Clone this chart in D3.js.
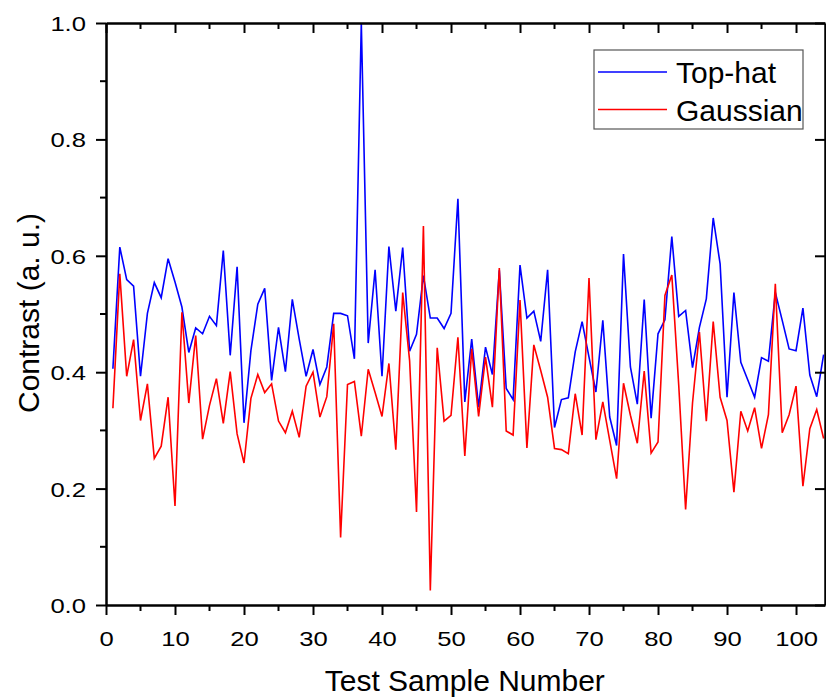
<!DOCTYPE html>
<html>
<head>
<meta charset="utf-8">
<script src="https://cdn.jsdelivr.net/npm/d3@7"></script>
<style>
  body { margin: 0; background: #fff; }
  text { font-family: "Liberation Sans", Arial, sans-serif; }
</style>
</head>
<body>
<div id="chart"></div>
<script>
// sample numbers 1..104
var samples = d3.range(1, 105);

var topHat = [
  0.406, 0.615, 0.559, 0.548, 0.393, 0.501, 0.554, 0.528, 0.595, 0.555,
  0.512, 0.434, 0.476, 0.466, 0.496, 0.480, 0.609, 0.429, 0.581, 0.313,
  0.437, 0.517, 0.544, 0.386, 0.477, 0.401, 0.525, 0.457, 0.393, 0.439,
  0.379, 0.409, 0.501, 0.501, 0.497, 0.423, 1.000, 0.450, 0.576, 0.393,
  0.616, 0.505, 0.614, 0.436, 0.465, 0.566, 0.493, 0.493, 0.475, 0.501,
  0.698, 0.349, 0.457, 0.340, 0.443, 0.396, 0.575, 0.372, 0.353, 0.584,
  0.493, 0.505, 0.453, 0.576, 0.305, 0.353, 0.356, 0.435, 0.487, 0.426,
  0.366, 0.489, 0.323, 0.274, 0.603, 0.409, 0.345, 0.525, 0.321, 0.466,
  0.490, 0.633, 0.496, 0.506, 0.408, 0.477, 0.526, 0.665, 0.586, 0.357,
  0.537, 0.417, 0.387, 0.357, 0.425, 0.419, 0.537, 0.489, 0.440, 0.437,
  0.510, 0.395, 0.358, 0.430
];

var gaussian = [
  0.338, 0.569, 0.393, 0.456, 0.317, 0.380, 0.252, 0.273, 0.357, 0.170,
  0.503, 0.347, 0.463, 0.285, 0.343, 0.389, 0.312, 0.401, 0.294, 0.244,
  0.355, 0.396, 0.365, 0.380, 0.316, 0.296, 0.333, 0.288, 0.376, 0.400,
  0.323, 0.358, 0.483, 0.116, 0.379, 0.384, 0.290, 0.405, 0.365, 0.324,
  0.415, 0.267, 0.537, 0.420, 0.160, 0.651, 0.025, 0.442, 0.316, 0.326,
  0.460, 0.256, 0.440, 0.324, 0.426, 0.340, 0.579, 0.299, 0.292, 0.524,
  0.270, 0.447, 0.403, 0.357, 0.269, 0.267, 0.260, 0.363, 0.292, 0.562,
  0.284, 0.349, 0.283, 0.217, 0.381, 0.326, 0.278, 0.402, 0.261, 0.280,
  0.532, 0.567, 0.378, 0.164, 0.347, 0.469, 0.316, 0.487, 0.357, 0.317,
  0.194, 0.333, 0.299, 0.339, 0.269, 0.327, 0.552, 0.296, 0.327, 0.376,
  0.204, 0.303, 0.336, 0.286
];

var seriesNames = ["Top-hat", "Gaussian"];
var seriesColors = ["#0000ff", "#ff0000"];
var xTicks = d3.range(0, 101, 10);
var yTicks = d3.range(0, 1.01, 0.2);

var W = 826, H = 698;
var margin = { top: 23, right: 1, bottom: 93, left: 106 };
var width = W - margin.left - margin.right,
    height = H - margin.top - margin.bottom;

var svg = d3.select("#chart").append("svg")
    .attr("width", W)
    .attr("height", H);

var g = svg.append("g")
    .attr("transform", "translate(" + margin.left + "," + margin.top + ")");

var x = d3.scaleLinear().domain([0, 104.2]).range([0, width]);
var y = d3.scaleLinear().domain([0, 1]).range([height, 0]);

g.append("clipPath").attr("id", "plotClip")
  .append("rect")
    .attr("x", 0).attr("y", 0)
    .attr("width", width).attr("height", height);

// lines
var line = d3.line()
    .x(function (d) { return x(d[0]) })
    .y(function (d) { return y(d[1]) });

[topHat, gaussian].forEach(function (vals, k) {
  var pts = samples.map(function (s, i) { return [s, vals[i]] });
  g.append("path")
      .datum(pts)
      .attr("clip-path", "url(#plotClip)")
      .attr("fill", "none")
      .attr("stroke", seriesColors[k])
      .attr("stroke-width", 1.6)
      .attr("d", line);
});

// axes
var xMinor = d3.range(5, 104, 10);
var yMinor = d3.range(0.1, 1, 0.2);

var xAxis = g.append("g")
    .attr("transform", "translate(0," + height + ")")
    .call(d3.axisBottom(x).tickValues(xTicks).tickSize(10).tickSizeOuter(0).tickFormat(d3.format("d")));
xAxis.selectAll(".tick text").attr("y", 41).attr("dy", 0);
xAxis.selectAll(".minor").data(xMinor).enter().append("line")
    .attr("x1", function (d) { return x(d) }).attr("x2", function (d) { return x(d) })
    .attr("y1", 0).attr("y2", 6)
    .attr("stroke", "#000").attr("stroke-width", 2);

var yAxis = g.append("g")
    .call(d3.axisLeft(y).tickValues(yTicks).tickSize(10).tickSizeOuter(0).tickFormat(d3.format(".1f")));
yAxis.selectAll(".tick text").attr("x", -20).attr("dy", "0.36em");
yAxis.selectAll(".minor").data(yMinor).enter().append("line")
    .attr("y1", function (d) { return y(d) }).attr("y2", function (d) { return y(d) })
    .attr("x1", 0).attr("x2", -6)
    .attr("stroke", "#000").attr("stroke-width", 2);

// top and right frame with inward ticks
var topAxis = g.append("g")
    .call(d3.axisTop(x).tickValues(xTicks).tickSize(-10).tickSizeOuter(0).tickFormat(""));
topAxis.selectAll(".minor").data(xMinor).enter().append("line")
    .attr("x1", function (d) { return x(d) }).attr("x2", function (d) { return x(d) })
    .attr("y1", 0).attr("y2", 6)
    .attr("stroke", "#000").attr("stroke-width", 2);

var rightAxis = g.append("g")
    .attr("transform", "translate(" + width + ",0)")
    .call(d3.axisRight(y).tickValues(yTicks).tickSize(-10).tickSizeOuter(0).tickFormat(""));

g.selectAll(".domain").attr("stroke", "#000").attr("stroke-width", 2.5);
g.selectAll(".tick line").attr("stroke", "#000").attr("stroke-width", 2);
g.selectAll(".tick text")
    .attr("font-size", 21)
    .attr("fill", "#000")
    .attr("font-family", "Liberation Sans, Arial, sans-serif")
    .each(function () {
      // tick labels in the figure are drawn a little wide
      var w = this.getComputedTextLength();
      d3.select(this).attr("textLength", w * 1.22).attr("lengthAdjust", "spacingAndGlyphs");
    });

// axis titles
svg.append("text")
    .attr("x", margin.left + x(52))
    .attr("y", 691)
    .attr("text-anchor", "middle")
    .attr("font-size", 30)
    .text("Test Sample Number");

svg.append("text")
    .attr("transform", "translate(39," + 313 + ") rotate(-90)")
    .attr("text-anchor", "middle")
    .attr("font-size", 30)
    .text("Contrast (a. u.)");

// legend
var legend = svg.append("g").attr("transform", "translate(594,50)");
legend.append("rect")
    .attr("width", 209).attr("height", 79)
    .attr("fill", "#fff")
    .attr("stroke", "#555").attr("stroke-width", 1.2);
seriesNames.forEach(function (name, i) {
  var yy = 22 + i * 37.5;
  legend.append("line")
      .attr("x1", 4).attr("x2", 73)
      .attr("y1", yy).attr("y2", yy)
      .attr("stroke", seriesColors[i]).attr("stroke-width", 1.6);
  legend.append("text")
      .attr("x", 82).attr("y", yy + 11)
      .attr("font-size", 30)
      .text(name);
});
</script>
</body>
</html>
